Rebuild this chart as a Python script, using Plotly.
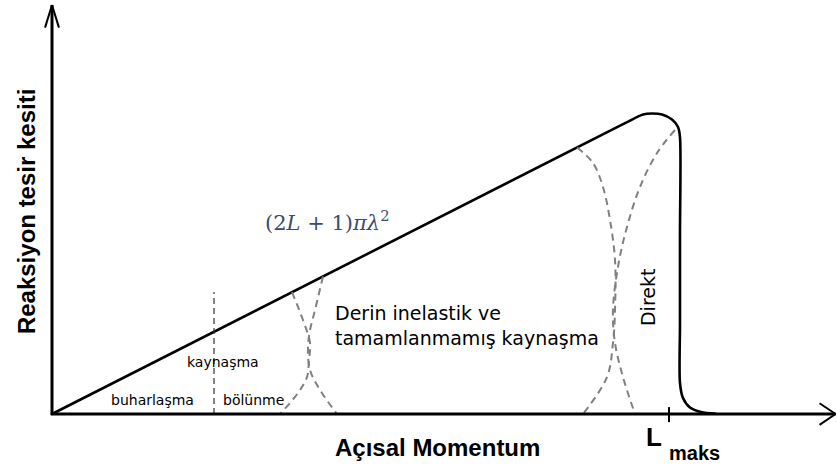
import plotly.graph_objects as go

# Angular momentum L is measured in units where L_maks = 100,
# the reaction cross-section in units where the peak of the envelope = 100.
L_MAKS = 100

# Envelope of the cross-section: linear (2L+1)πλ² rise, rounded top, sharp cut-off past L_maks
envelope_L = [0, 92.87, 95.79, 97.24, 98.87, 100.49, 101.46, 101.78, 101.78, 101.78,
              101.78, 102.27, 103.40, 105.19, 107.62]
envelope_sigma = [0, 96.95, 99.83, 100.17, 99.83, 98.17, 95.67, 92.33, 60.0, 30.0,
                  10.33, 5.33, 2.17, 0.67, 0.07]

# Boundary between evaporation and fission (both fusion)
fusion_split_L = [26.26, 26.26]
fusion_split_sigma = [0, 40.67]

# Smeared boundaries between reaction regimes (pairs of overlapping edges)
edge1_left_L = [38.90, 40.68, 41.82, 41.65, 41.33, 39.87, 36.95]
edge1_left_sigma = [40.60, 31.33, 23.67, 18.00, 12.33, 7.00, 0]
edge1_right_L = [43.92, 42.63, 41.82, 41.49, 41.82, 43.44, 46.19]
edge1_right_sigma = [45.83, 34.67, 28.00, 22.33, 14.67, 8.00, 0]

edge2_left_L = [85.09, 87.68, 89.30, 90.44, 91.25, 91.25, 90.92, 89.95, 86.06]
edge2_left_sigma = [88.83, 83.67, 75.67, 64.67, 51.33, 34.67, 23.67, 12.33, 0]
edge2_right_L = [100.97, 98.06, 95.30, 93.19, 91.73, 90.92, 91.25, 92.54, 94.49]
edge2_right_sigma = [94.67, 87.00, 75.67, 62.33, 49.00, 34.67, 23.67, 12.33, 0]

# Axis extents (data units)
X_RANGE = [-8.428, 127.23]
Y_RANGE = [-18.33, 138.0]
X_AXIS_END = 127.0
Y_AXIS_END = 136.3

fig = go.Figure()

fig.add_trace(go.Scatter(
    x=envelope_L, y=envelope_sigma, mode="lines",
    line=dict(color="black", width=2.6, shape="spline", smoothing=0.8),
    hoverinfo="skip", showlegend=False))

fig.add_trace(go.Scatter(
    x=fusion_split_L, y=fusion_split_sigma, mode="lines",
    line=dict(color="#333333", width=1.2, dash="6px,4px"),
    hoverinfo="skip", showlegend=False))

for xs, ys in [(edge1_left_L, edge1_left_sigma), (edge1_right_L, edge1_right_sigma),
               (edge2_left_L, edge2_left_sigma), (edge2_right_L, edge2_right_sigma)]:
    fig.add_trace(go.Scatter(
        x=xs, y=ys, mode="lines",
        line=dict(color="#808080", width=2, dash="7px,5px", shape="spline", smoothing=1),
        hoverinfo="skip", showlegend=False))

axis_line = dict(color="black", width=3)
shapes = [
    # vertical axis with open arrow head
    dict(type="line", x0=0, y0=-0.3, x1=0, y1=Y_AXIS_END, line=axis_line),
    dict(type="line", x0=0, y0=Y_AXIS_END, x1=-1.13, y1=Y_AXIS_END - 7.5, line=dict(color="black", width=2)),
    dict(type="line", x0=0, y0=Y_AXIS_END, x1=1.13, y1=Y_AXIS_END - 7.5, line=dict(color="black", width=2)),
    # horizontal axis with open arrow head
    dict(type="line", x0=-0.2, y0=0, x1=X_AXIS_END, y1=0, line=axis_line),
    dict(type="line", x0=X_AXIS_END, y0=0, x1=X_AXIS_END - 2.6, y1=3.6, line=dict(color="black", width=2)),
    dict(type="line", x0=X_AXIS_END, y0=0, x1=X_AXIS_END - 2.6, y1=-3.6, line=dict(color="black", width=2)),
    # tick at L_maks
    dict(type="line", x0=L_MAKS, y0=2.3, x1=L_MAKS, y1=-2.7, line=dict(color="black", width=2)),
]

small = dict(family="DejaVu Sans", size=14, color="black")
medium = dict(family="DejaVu Sans", size=19, color="black")
annotations = [
    dict(x=16.21, y=4.67, text="buharlaşma", font=small),
    dict(x=27.71, y=17.33, text="kaynaşma", font=small),
    dict(x=32.58, y=4.67, text="bölünme", font=small),
    dict(x=45.5, y=29.67, text="Derin inelastik ve<br>tamamlanmamış kaynaşma",
         xanchor="left", align="left", font=medium),
    dict(x=96.6, y=38.67, text="Direkt", textangle=-90, font=medium),
    dict(x=44.73, y=64.5, text="(2<i>L</i> + 1)<i>πλ</i><sup>2</sup>",
         font=dict(family="DejaVu Serif", size=21, color="#3c4a6e")),
    dict(x=-4.2, y=67.33, text="Reaksiyon tesir kesiti", textangle=-90,
         font=dict(family="Liberation Sans", size=24, color="black", weight="bold")),
    dict(x=62.4, y=-11.0, text="Açısal Momentum",
         font=dict(family="Liberation Sans", size=24, color="black", weight="bold")),
    dict(x=96.0, y=-7.8, text="L", xanchor="left",
         font=dict(family="Liberation Sans", size=26, color="black", weight="bold")),
    dict(x=99.6, y=-13.0, text="maks", xanchor="left",
         font=dict(family="Liberation Sans", size=20, color="black", weight="bold")),
]
for a in annotations:
    a.setdefault("xref", "x")
    a.setdefault("yref", "y")
    a["showarrow"] = False

fig.update_layout(
    width=837, height=469,
    margin=dict(l=0, r=0, t=0, b=0),
    paper_bgcolor="white", plot_bgcolor="white",
    xaxis=dict(range=X_RANGE, visible=False, fixedrange=True),
    yaxis=dict(range=Y_RANGE, visible=False, fixedrange=True),
    shapes=shapes, annotations=annotations,
    showlegend=False,
)

fig.write_html("out.html", config={"displayModeBar": False})
